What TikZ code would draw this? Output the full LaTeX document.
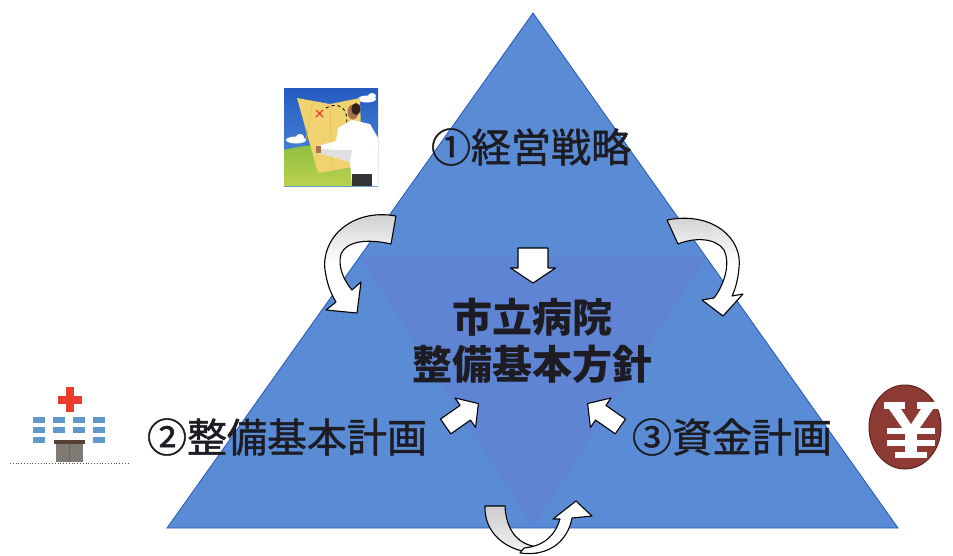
\documentclass[tikz,border=0pt]{standalone}
\usepackage{fontspec}
\setmainfont{Noto Sans CJK JP}
\newfontfamily\labelfont[FakeBold=1.2]{Noto Sans CJK JP}
\usetikzlibrary{calc}
\definecolor{outerblue}{RGB}{90,140,214}
\definecolor{outeredge}{RGB}{36,86,190}
\definecolor{innerblue}{RGB}{96,132,212}
\definecolor{ink}{RGB}{28,28,34}
\definecolor{skytop}{RGB}{36,92,192}
\definecolor{skybot}{RGB}{88,146,222}
\definecolor{grass}{RGB}{140,188,62}
\definecolor{grasslight}{RGB}{186,210,80}
\definecolor{mapyellow}{RGB}{240,210,110}
\definecolor{skin}{RGB}{170,112,78}
\definecolor{hair}{RGB}{52,34,26}
\definecolor{crossred}{RGB}{232,62,44}
\definecolor{winblue}{RGB}{96,152,204}
\definecolor{doorgray}{RGB}{128,122,116}
\definecolor{doortop}{RGB}{84,64,52}
\definecolor{yenred}{RGB}{142,58,52}
\definecolor{yenedge}{RGB}{96,36,32}
\tikzset{
  label text/.style={font=\labelfont\fontsize{40}{48}\selectfont, text=ink, inner sep=0pt},
  title text/.style={font=\fontsize{40}{47}\selectfont\bfseries, text=ink, inner sep=0pt, align=center},
  arrowface/.style={draw=black, line width=1.1pt, fill=white, line join=round},
  curvearrow/.style={draw=black, line width=1.1pt, line join=round},
}
% straight block arrow: x, y, angle, half length, body half width, head half width, head length
\newcommand\blockarrow[7]{%
  \begin{scope}[shift={(#1,#2)},rotate=#3]
    \draw[arrowface] (-#4,-#5) -- ({#4-#7},-#5) -- ({#4-#7},-#6) -- (#4,0)
      -- ({#4-#7},#6) -- ({#4-#7},#5) -- (-#4,#5) -- cycle;
  \end{scope}}
\begin{document}
\begin{tikzpicture}[x=1pt,y=-1pt]
\useasboundingbox (0,0) rectangle (953,555);
\fill[white] (0,0) rectangle (953,555);

% main triangle and the inverted inner triangle
\coordinate (apex) at (533,13);
\coordinate (bl) at (167,528);
\coordinate (br) at (898,528);
\coordinate (il) at (360,257);
\coordinate (ir) at (706,257);
\coordinate (ib) at (533,528);
\fill[outerblue, draw=outeredge, line width=0.8pt] (apex) -- (br) -- (bl) -- cycle;
\fill[innerblue] (il) -- (ir) -- (ib) -- cycle;

% labels
\node[label text] (strategy) at (531,147) {①経営戦略};
\node[label text] (facility) at (287,437) {②整備基本計画};
\node[label text] (funding) at (732,437) {③資金計画};
\node[title text] (policy) at (532,341) {市立病院\\整備基本方針};

% straight arrows toward the centre
\blockarrow{533}{265.5}{-90}{17.5}{15}{22.5}{15}
\blockarrow{462}{415}{35}{20}{9}{18}{16}
\blockarrow{604}{415}{145}{20}{9}{18}{16}

% curved arrow on the left
\def\leftcurve{(396,216) .. controls (352,208) and (321,238) .. (325,270)
  .. controls (327,284) and (331,294) .. (336,302) -- (326,310) -- (357,313)
  -- (361,282) -- (352,290) .. controls (342,278) and (338,265) .. (341,254)
  .. controls (346,242) and (365,238) .. (391,244) -- cycle}
\fill[white] \leftcurve;
\begin{scope}
  \clip \leftcurve;
  \shade[top color=gray!45, bottom color=white] (300,205) rectangle (400,262);
\end{scope}
\draw[curvearrow] \leftcurve;

% curved arrow on the right
\def\rightcurve{(667,220) .. controls (712,211) and (743,238) .. (739,268)
  .. controls (738,280) and (735,290) .. (732,296) -- (743,294) -- (723,316)
  -- (702,300) -- (714,298) .. controls (726,282) and (730,262) .. (724,250)
  .. controls (716,238) and (695,237) .. (678,244) -- cycle}
\fill[white] \rightcurve;
\begin{scope}
  \clip \rightcurve;
  \shade[top color=gray!45, bottom color=white] (660,205) rectangle (750,262);
\end{scope}
\draw[curvearrow] \rightcurve;

% U-turn arrow at the bottom
\def\backband{(485,506) .. controls (484,532) and (505,552) .. (537,553)
  -- (540,547) .. controls (518,546) and (506,530) .. (505,506) -- cycle}
\shade[top color=gray!40, bottom color=gray!10] \backband;
\draw[curvearrow] \backband;
\draw[curvearrow, fill=white] (520,553) .. controls (550,557) and (568,540) .. (572,518)
  -- (592,516) -- (576,501) -- (553,519) -- (560,519)
  .. controls (556,533) and (546,546) .. (524,548) -- cycle;

% picture: man reading a map
\shade[top color=skytop, bottom color=skybot] (284,88) rectangle (378,186);
\fill[white] (367,99) ellipse (9 and 3.5);
\fill[white] (372,96) ellipse (4 and 3);
\fill[white] (296,140) ellipse (10 and 3.5);
\fill[white] (300,137) ellipse (4 and 3);
\shade[top color=grass, bottom color=grasslight] (284,150) .. controls (310,143) and (340,145) .. (378,140)
  -- (378,186) -- (284,186) -- cycle;
\fill[mapyellow] (297,98) -- (330,104) -- (360,98) -- (362,165) -- (347,168) -- (318,173) -- cycle;
\draw[mapyellow!70!brown, line width=0.5pt] (330,104) -- (332,170) (313,101) -- (306,140);
\draw[crossred, line width=1.3pt] (316,110) -- (323,117) (316,117) -- (323,110);
\draw[black, dashed, line width=0.8pt] (326,108) .. controls (345,98) and (354,118) .. (340,142);
\fill[white] (338,128) -- (352,120) -- (370,124) -- (378,138) -- (378,186) -- (352,186)
  -- (350,162) -- (330,156) -- (318,153) -- (318,146) -- (336,141) -- cycle;
\fill[gray!25] (350,162) -- (330,156) -- (318,153) -- (320,149) -- (338,150) -- (352,150) -- cycle;
\fill[skin] (353,112) ellipse (5.5 and 7.5);
\fill[hair] (356,109) ellipse (4.5 and 6);
\fill[skin] (316,146) rectangle (321,153);
\fill[black!80] (352,174) rectangle (372,186);

% hospital
\fill[crossred] (66,387) rectangle (74,412);
\fill[crossred] (58,396) rectangle (82,404);
\foreach \cx in {33,53,73,93} {
  \fill[winblue] (\cx,417) rectangle ++(12,5.5);
  \fill[winblue] (\cx,427) rectangle ++(12,5.5);
}
\fill[winblue] (33,437) rectangle ++(12,5.5);
\fill[winblue] (93,437) rectangle ++(12,5.5);
\fill[doorgray] (56,443) rectangle (83,462);
\fill[doortop] (54,440) rectangle (85,444);
\draw[black!60, line width=0.5pt] (69.5,444) -- (69.5,462);
\draw[black!70, dotted, line width=0.8pt] (10,463) -- (130,463);

% yen coin
\fill[yenred, draw=yenedge, line width=1pt] (905,427) ellipse (36 and 42);
\fill[white] (884,402) rectangle (905,409);
\fill[white] (917,402) rectangle (938,409);
\fill[white] (889,409) -- (901,409) -- (916,432) -- (905,432) -- cycle;
\fill[white] (921,409) -- (933,409) -- (917,432) -- (906,432) -- cycle;
\fill[white] (887,428) rectangle (935,434);
\fill[white] (887,440) rectangle (935,446);
\fill[white] (905,430) rectangle (917,452);
\fill[white] (895,452) rectangle (927,458);
\end{tikzpicture}
\end{document}
